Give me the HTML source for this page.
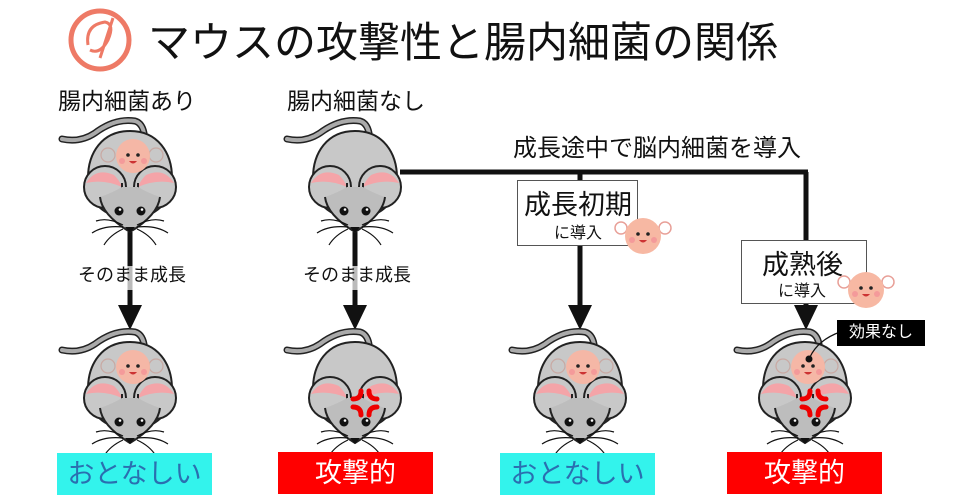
<!DOCTYPE html>
<html><head><meta charset="utf-8"><style>
body{margin:0;width:960px;height:503px;background:#fff;overflow:hidden;position:relative;font-family:"Liberation Sans","Noto Sans CJK JP",sans-serif;}
.t{position:absolute;white-space:nowrap;color:#111;}
.lab{position:absolute;height:42px;width:155px;text-align:center;font-size:27px;line-height:42px;}
.cy{background:#33f3ec;color:#2a6fb0;}
.rd{background:#f00;color:#fff;}
.box{position:absolute;border:1.5px solid #555;background:#fff;}
</style></head><body>
<svg width="960" height="503" style="position:absolute;left:0;top:0">
<defs>
<g id="mouse">
 <path d="M-68 -34 Q-50 -30 -35 -40 Q-15 -55 5 -52 Q12 -50 14 -40" fill="none" stroke="#222" stroke-width="7" stroke-linecap="round"/>
 <path d="M-68 -34 Q-50 -30 -35 -40 Q-15 -55 5 -52 Q12 -50 14 -40" fill="none" stroke="#aaa" stroke-width="4" stroke-linecap="round"/>
 <path d="M0 -42 C28 -42 42 -20 42 5 C42 30 25 45 0 45 C-25 45 -42 30 -42 5 C-42 -20 -28 -42 0 -42Z" fill="#c8c8c8" stroke="#222" stroke-width="2"/>
 <circle cx="-25" cy="14" r="21" fill="#c8c8c8" stroke="#222" stroke-width="2"/>
 <circle cx="25" cy="14" r="21" fill="#c8c8c8" stroke="#222" stroke-width="2"/>
 <path d="M-44 10 Q-34 -6 -16 2 Q-10 8 -8 14 Q-26 6 -44 10Z" fill="#f4a4a8"/>
 <path d="M44 10 Q34 -6 16 2 Q10 8 8 14 Q26 6 44 10Z" fill="#f4a4a8"/>
 <path d="M-8 10 L-8 20 M8 10 L8 20" stroke="#222" stroke-width="2"/>
 <path d="M-30 24 Q-28 42 0 59 Q28 42 30 24 Q18 20 8 14 L-8 14 Q-18 20 -30 24Z" fill="#bdbdbd"/>
 <path d="M-30 24 Q-28 42 0 59 Q28 42 30 24" fill="none" stroke="#222" stroke-width="2"/>
 <circle cx="-11" cy="38" r="4.5" fill="#111"/><circle cx="11" cy="38" r="4.5" fill="#111"/>
 <circle cx="-10" cy="36.5" r="1.3" fill="#fff"/><circle cx="12" cy="36.5" r="1.3" fill="#fff"/>
 <path d="M-5 54 L5 54 L0 60Z" fill="#111"/>
 <g stroke="#111" stroke-width="1.2" fill="none">
 <path d="M-7 52 Q-22 44 -34 48"/><path d="M-7 54 Q-26 52 -38 60"/><path d="M-7 56 Q-20 62 -26 72"/>
 <path d="M7 52 Q22 44 34 48"/><path d="M7 54 Q26 52 38 60"/><path d="M7 56 Q20 62 26 72"/>
 </g>
</g>
<g id="happy">
 <use href="#mouse"/>
 <circle cx="-22" cy="-18" r="7" fill="none" stroke="#c9a9a3" stroke-width="1.2"/>
 <circle cx="26" cy="-18" r="7" fill="none" stroke="#c9a9a3" stroke-width="1.2"/>
 <circle cx="3" cy="-17" r="17" fill="#f5b7a6"/>
 <circle cx="-2" cy="-18" r="1.8" fill="#222"/><circle cx="8" cy="-18" r="1.8" fill="#222"/>
 <path d="M-1 -12 Q3 -7 7 -12Z" fill="#c33"/>
 <circle cx="-8" cy="-12" r="3" fill="#f49a9a"/><circle cx="14" cy="-12" r="3" fill="#f49a9a"/>
</g>
<g id="angry" fill="none" stroke="#e00" stroke-width="5" stroke-linecap="round">
 <path d="M-12 -4 Q-4 -4 -4 -12"/><path d="M12 -4 Q4 -4 4 -12"/>
 <path d="M-12 4 Q-4 4 -4 12"/><path d="M12 4 Q4 4 4 12"/>
</g>
<g id="bac2">
 <circle cx="-22" cy="-8" r="6" fill="#fff" stroke="#e8a098" stroke-width="1.5"/>
 <circle cx="22" cy="-8" r="6" fill="#fff" stroke="#e8a098" stroke-width="1.5"/>
 <circle cx="0" cy="0" r="18" fill="#f7b8a3"/>
 <circle cx="-5" cy="-2" r="1.8" fill="#222"/><circle cx="5" cy="-2" r="1.8" fill="#222"/>
 <path d="M-4 4 Q0 9 4 4Z" fill="#c33"/>
 <circle cx="-11" cy="4" r="3" fill="#f49a9a"/><circle cx="11" cy="4" r="3" fill="#f49a9a"/>
</g>
</defs>
<circle cx="100" cy="40" r="29" fill="none" stroke="#ee7a66" stroke-width="5"/>
<path d="M88 45 Q85 25 105 22 Q115 24 108 40 Q100 55 90 50 M113 18 L100 58" fill="none" stroke="#ee7a66" stroke-width="3"/>
<g stroke="#111" stroke-width="5">
<line x1="130" y1="232" x2="130" y2="310"/>
<line x1="355" y1="232" x2="355" y2="310"/>
<line x1="400" y1="172" x2="808" y2="172"/>
<line x1="580" y1="172" x2="580" y2="310"/>
<line x1="806" y1="172" x2="806" y2="310"/>
</g>
<g stroke="#bbb" stroke-width="5"><line x1="130" y1="266" x2="130" y2="290"/><line x1="355" y1="266" x2="355" y2="290"/></g>
<g fill="#111">
<path d="M118 305 L142 305 L130 330Z"/><path d="M343 305 L367 305 L355 330Z"/>
<path d="M568 305 L592 305 L580 330Z"/><path d="M794 305 L818 305 L806 330Z"/>
</g>
<use href="#happy" x="130" y="173"/>
<use href="#mouse" x="355" y="173"/>
<use href="#happy" x="130" y="384"/>
<use href="#mouse" x="355" y="384"/>
<use href="#angry" x="365" y="403"/>
<use href="#happy" x="580" y="384"/>
<use href="#happy" x="805" y="384"/>
<use href="#angry" x="814" y="403"/>
<path d="M810 357 Q818 340 840 332" stroke="#111" stroke-width="1.2" fill="none"/>
<circle cx="809" cy="359" r="3.5" fill="#111"/>
</svg>
<div class="t" style="left:148px;top:18px;font-size:42px;line-height:50px;">マウスの攻撃性と腸内細菌の関係</div>
<div class="t" style="left:58px;top:82px;font-size:23px;">腸内細菌あり</div>
<div class="t" style="left:287px;top:82px;font-size:23px;">腸内細菌なし</div>
<div class="t" style="left:513px;top:128px;font-size:24px;">成長途中で脳内細菌を導入</div>
<div class="t" style="left:78px;top:261px;font-size:18px;">そのまま成長</div>
<div class="t" style="left:303px;top:261px;font-size:18px;">そのまま成長</div>
<div class="box" style="left:517px;top:180px;width:119px;height:64px;"><div class="t" style="left:6px;top:2px;font-size:27px;">成長初期</div><div class="t" style="left:36px;top:38px;font-size:16px;">に導入</div></div>
<div class="box" style="left:741px;top:240px;width:124px;height:62px;"><div class="t" style="left:20px;top:2px;font-size:27px;">成熟後</div><div class="t" style="left:36px;top:36px;font-size:16px;">に導入</div></div>
<svg width="960" height="503" style="position:absolute;left:0;top:0">
<use href="#bac2" x="643" y="236"/>
<use href="#bac2" x="866" y="290"/>
</svg>
<div class="t" style="left:837px;top:320px;width:88px;height:26px;background:#000;color:#fff;font-size:16px;line-height:26px;text-align:center;">効果なし</div>
<div class="lab cy" style="left:57px;top:453px;">おとなしい</div>
<div class="lab rd" style="left:278px;top:452px;">攻撃的</div>
<div class="lab cy" style="left:500px;top:453px;">おとなしい</div>
<div class="lab rd" style="left:727px;top:452px;">攻撃的</div>
</body></html>
